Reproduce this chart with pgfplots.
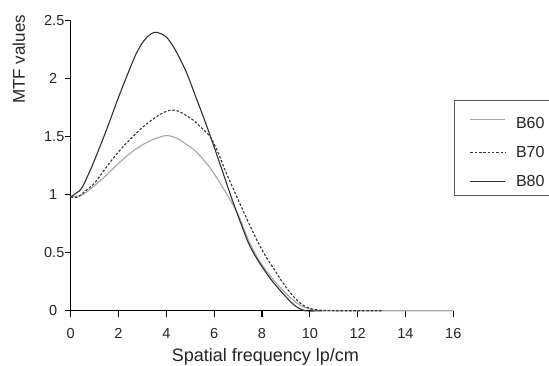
\documentclass[border=0pt]{standalone}
\usepackage{fontspec}
\setmainfont{Liberation Sans}
\usepackage{pgfplots}
\pgfplotsset{compat=1.18}
\definecolor{cBsixty}{HTML}{A6A6A6}
\definecolor{cBseventy}{HTML}{333333}
\definecolor{cBeighty}{HTML}{303030}
\begin{document}
\begin{tikzpicture}
\begin{axis}[
  at={(0pt,0pt)}, anchor=south west,
  scale only axis, width=382.6pt, height=290pt,
  xmin=0, xmax=16, ymin=0, ymax=2.5,
  axis x line*=bottom, axis y line*=left,
  axis line style={-, line width=1.4pt, black},
  tick align=outside, major tick length=6pt,
  tick style={line width=1.2pt, black},
  xtick={0,2,4,6,8,10,12,14,16},
  ytick={0,0.5,1,1.5,2,2.5},
  yticklabels={0,0.5,1,1.5,2,2.5},
  xticklabels={0,2,4,6,8,10,12,14,16},
  ticklabel style={font=\fontsize{14.5}{14.5}\selectfont, text=black!85},
  xticklabel style={yshift=-8pt},
  yticklabel style={text width=18pt, align=center, xshift=1pt},
  clip=false,
  legend style={at={(rel axis cs:1.0018,0.7266)}, anchor=north west,
    draw=black!65, line width=0.9pt, inner xsep=15.5pt, inner ysep=6pt,
    row sep=12pt, column sep=8pt, font=\fontsize{16}{16}\selectfont, text=black!85,
    nodes={inner sep=2pt}},
  legend cell align=left,
  legend image code/.code={\draw[#1] (0pt,0pt) -- (35pt,0pt);},
]
\addplot[color=cBsixty, line width=1.1pt, smooth, tension=0.5] coordinates {
(0,0.98) (0.5,1.0) (1,1.08) (1.5,1.17) (2,1.27) (2.5,1.36) (3,1.43) (3.5,1.48)
(4,1.51) (4.4,1.49) (4.8,1.44) (5.2,1.38) (5.6,1.29) (5.9,1.21) (6.25,1.10) (6.6,0.98)
(7,0.83) (7.43,0.61) (7.86,0.44) (8.2,0.34) (8.59,0.24) (9,0.15) (9.5,0.06) (10,0.012) (10.5,0.0) (12,0) (16,0)};
\addlegendentry{\rule{0pt}{20.5pt}B60}
\addplot[color=cBseventy, line width=1.1pt, dash pattern=on 2.5pt off 1.8pt, smooth, tension=0.5] coordinates {
(0,0.98) (0.3,0.98) (0.6,1.03) (1,1.10) (1.5,1.24) (2,1.37) (2.5,1.48) (3,1.58)
(3.5,1.66) (3.9,1.71) (4.2,1.73) (4.5,1.72) (4.85,1.68) (5.2,1.63) (5.5,1.57) (5.83,1.50) (6.15,1.37)
(6.46,1.21) (6.8,1.05) (7.15,0.89) (7.71,0.64) (8.15,0.47) (8.5,0.36) (8.81,0.26) (9.2,0.15) (9.6,0.065) (10,0.02) (10.5,0.003) (11,0) (13,0)};
\addlegendentry{B70}
\addplot[color=cBeighty, line width=1.1pt, smooth, tension=0.5] coordinates {
(0,0.98) (0.2,1.01) (0.35,1.03) (0.5,1.07) (0.75,1.18) (1,1.3) (1.5,1.56) (2,1.84)
(2.5,2.10) (2.75,2.22) (3,2.31) (3.25,2.37) (3.5,2.40) (3.75,2.39) (4,2.36) (4.25,2.29)
(4.5,2.20) (4.85,2.05) (5.2,1.86) (5.55,1.67) (5.9,1.47) (6.35,1.20) (6.8,0.93) (7.36,0.62)
(7.64,0.5) (8,0.38) (8.45,0.25) (9,0.12) (9.4,0.04) (9.8,0.0) (10.5,0)};
\addlegendentry{B80}
\end{axis}
\node[rotate=90, anchor=base, font=\fontsize{17}{17}\selectfont, text=black!85] at (-45.7pt,251.3pt) {MTF values};
\node[anchor=base, font=\fontsize{18}{18}\selectfont, text=black!85] at (194.6pt,-50.5pt) {Spatial frequency lp/cm};
\pgfresetboundingbox
\useasboundingbox (-70.7pt,-54.3pt) rectangle (478.3pt,310.7pt);
\end{tikzpicture}
\end{document}
